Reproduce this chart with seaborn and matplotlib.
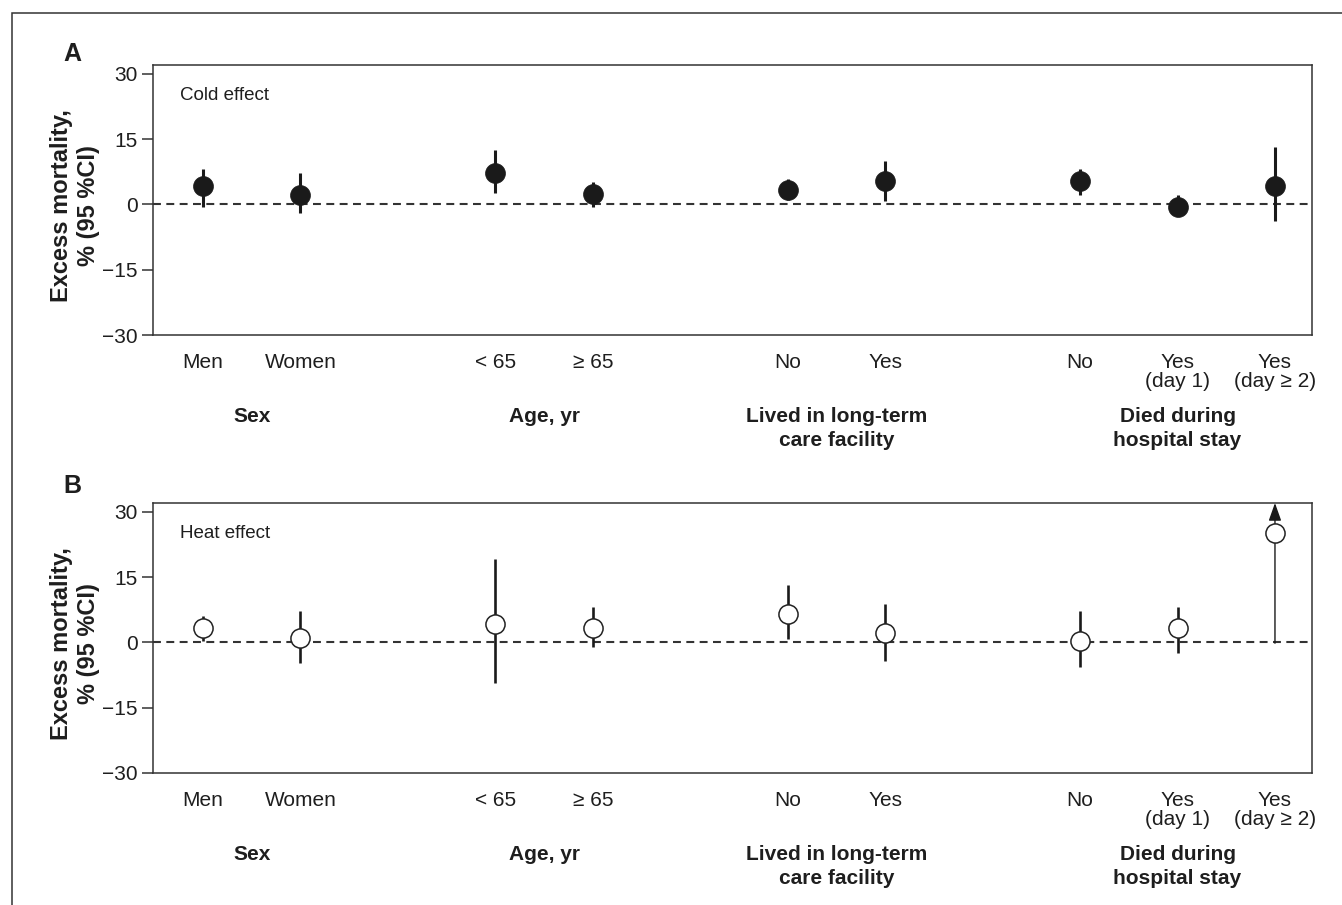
import numpy as np
import pandas as pd
import matplotlib
matplotlib.use("Agg")
import matplotlib.pyplot as plt
from matplotlib.patches import Rectangle
import seaborn as sns

# ---------------- data ----------------
groups = ["Sex", "Age, yr", "Lived in long-term\ncare facility", "Died during\nhospital stay"]
group_sizes = [2, 2, 2, 3]
categories = ["Men", "Women", "< 65", "≥ 65", "No", "Yes", "No", "Yes\n(day 1)", "Yes\n(day ≥ 2)"]

cold_est = [4.2, 2.1, 7.3, 2.3, 3.4, 5.4, 5.3, -0.7, 4.2]
cold_lo = [-0.6, -1.9, 2.5, -0.5, 0.9, 0.8, 2.1, -2.5, -3.9]
cold_hi = [8.1, 7.2, 12.5, 5.2, 5.9, 9.9, 8.1, 2.1, 13.2]

heat_est = [3.2, 1.1, 4.3, 3.4, 6.6, 2.1, 0.2, 3.4, 25.2]
heat_lo = [0.2, -4.8, -9.3, -1.1, 0.7, -4.3, -5.7, -2.5, -0.2]
heat_hi = [6.1, 7.3, 19.1, 8.2, 13.2, 8.8, 7.3, 8.2, 32.0]
heat_truncated = [False, False, False, False, False, False, False, False, True]

yticks = [-30, -15, 0, 15, 30]
ytick_labels = ["\u221230", "\u221215", "0", "15", "30"]

# positions: categories in groups, one empty slot between groups
positions = []
group_centers = []
p = 0
for n in group_sizes:
    grp = list(range(p, p + n))
    positions += grp
    group_centers.append(np.mean(grp))
    p += n + 1

# ---------------- style ----------------
sns.set_theme(style="white")
plt.rcParams["font.family"] = ["Liberation Sans", "DejaVu Sans"]
INK = "#1e1e1e"
plt.rcParams["text.color"] = INK
plt.rcParams["axes.edgecolor"] = "#333333"

W, H = 1342, 905
fig = plt.figure(figsize=(W / 100, H / 100), dpi=100)

def px_x(v):
    return v / W

def px_y(v):
    return 1 - v / H

# outer frame (top + left visible)
fig.add_artist(Rectangle((px_x(12), -0.1), 1.2, px_y(13) + 0.1, transform=fig.transFigure,
                         fill=False, edgecolor="#333333", linewidth=1.1))

ax_specs = [
    dict(top=65, bottom=335, label="A", label_y=54, note="Cold effect",
         est=cold_est, lo=cold_lo, hi=cold_hi, filled=True, trunc=[False] * 9),
    dict(top=503, bottom=773, label="B", label_y=486, note="Heat effect",
         est=heat_est, lo=heat_lo, hi=heat_hi, filled=False, trunc=heat_truncated),
]

left, right = 153, 1312
for spec in ax_specs:
    ax = fig.add_axes([px_x(left), px_y(spec["bottom"]), px_x(right - left),
                       (spec["bottom"] - spec["top"]) / H])
    ax.set_xlim(-0.513, 11.38)
    ax.set_ylim(-30, 32)

    ax.axhline(0, color="#333333", lw=1.5, ls=(0, (3.8, 2.6)), zorder=1)

    df = pd.DataFrame({"pos": positions, "est": spec["est"],
                       "lo": spec["lo"], "hi": spec["hi"], "trunc": spec["trunc"]})
    normal = df[~df["trunc"]]
    ax.vlines(normal["pos"], normal["lo"], normal["hi"], color="#1a1a1a",
              lw=2.2 if spec["filled"] else 1.9, zorder=2)
    for _, r in df[df["trunc"]].iterrows():
        ax.annotate("", xy=(r["pos"], ax.get_ylim()[1]), xytext=(r["pos"], r["lo"]),
                    arrowprops=dict(arrowstyle="-|>,head_length=0.9,head_width=0.32",
                                    color="#1a1a1a", lw=1.0, shrinkA=0, shrinkB=0),
                    zorder=2, annotation_clip=False)

    if spec["filled"]:
        sns.scatterplot(data=df, x="pos", y="est", ax=ax, s=205, color="#1a1a1a",
                        edgecolor="#1a1a1a", linewidth=0.5, zorder=3, legend=False)
    else:
        sns.scatterplot(data=df, x="pos", y="est", ax=ax, s=190, facecolor="white",
                        edgecolor="#222222", linewidth=1.1, zorder=3, legend=False)

    ax.set_xlabel("")
    ax.set_ylabel("")
    ax.set_yticks(yticks)
    ax.set_yticklabels(ytick_labels, fontsize=15, color=INK)
    ax.set_xticks(positions)
    ax.set_xticklabels(categories, fontsize=15, color=INK, linespacing=1.0)
    ax.tick_params(axis="x", length=0, pad=13)
    ax.tick_params(axis="y", length=8, width=1.1, color="#333333", pad=3, direction="out", left=True)
    for s in ax.spines.values():
        s.set_linewidth(1.1)
        s.set_color("#333333")
        s.set_visible(True)

    for gx, g in zip(group_centers, groups):
        ax.annotate(g, xy=(gx, 0), xycoords=("data", "axes fraction"),
                    xytext=(0, -52), textcoords="offset points", ha="center", va="top",
                    fontsize=15, fontweight="bold", linespacing=1.3, color=INK)

    ax.text(27 / (right - left), 1 - 30 / (spec["bottom"] - spec["top"]), spec["note"],
            transform=ax.transAxes, fontsize=13.5, va="center", ha="left", color=INK)

    ax.text((75 - left) / (right - left), 0.48, "Excess mortality,\n% (95 %CI)",
            transform=ax.transAxes, rotation=90, ha="center", va="center",
            fontsize=17, fontweight="bold", linespacing=1.2, color=INK)

    fig.text(px_x(72), px_y(spec["label_y"]), spec["label"], fontsize=18,
             fontweight="bold", ha="center", va="center", color=INK)

fig.savefig("out.png", dpi=100)
